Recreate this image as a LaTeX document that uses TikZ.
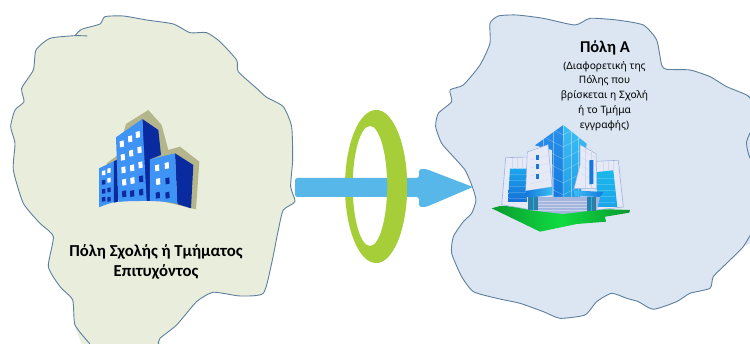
\documentclass[tikz,border=0pt]{standalone}
\usepackage{fontspec}
\setmainfont{Carlito}
\newfontfamily\smallfont{Noto Sans}
\definecolor{leftfill}{HTML}{E9EDDC}
\definecolor{rightfill}{HTML}{DCE6F2}
\definecolor{blobline}{HTML}{5F7F9F}
\definecolor{arrowblue}{HTML}{57B7E8}
\definecolor{ringgreen}{HTML}{A5CE39}
\definecolor{bshadow}{HTML}{B5B58C}
\definecolor{blight}{HTML}{3F93F5}
\definecolor{bdark}{HTML}{0A2BA0}
\definecolor{gwhite}{HTML}{E6EAF7}
\definecolor{gedge}{HTML}{9FB2DC}
\definecolor{gridline}{HTML}{D0D8EE}
\definecolor{towerA}{HTML}{2A8FEA}
\definecolor{towerB}{HTML}{1478DC}
\definecolor{towerC}{HTML}{3DBDF4}
\definecolor{towerD}{HTML}{1C9AE6}
\definecolor{wingA}{HTML}{1CA6EC}
\definecolor{wingB}{HTML}{1470D8}
\definecolor{wingC}{HTML}{1AB8EA}
\definecolor{baseblue}{HTML}{A4B6DE}
\definecolor{doorblue}{HTML}{2E7FA8}
\definecolor{groundA}{HTML}{0FDC40}
\definecolor{groundB}{HTML}{0A9A30}
\tikzset{
  blob/.style={draw=blobline,line width=0.9pt,line join=round},
  maintext/.style={font=\bfseries\fontsize{16.7}{19.5}\selectfont,align=center,text=black},
  subtext/.style={font=\smallfont\fontsize{10.2}{14.8}\selectfont,align=center,text=black},
  titletext/.style={font=\bfseries\fontsize{16.5}{20}\selectfont,text=black},
  gridl/.style={draw=gridline,line width=0.3pt},
  towergrid/.style={draw=white,opacity=0.4,line width=0.35pt},
  winggrid/.style={draw=white,opacity=0.18,line width=0.3pt}
}
\newcommand{\winbox}[3]{\fill[#1] (#2-6,#3-8) -- (#2+6,#3-11) -- (#2+7,#3+8) -- (#2-5,#3+10) -- cycle;}
\newcommand{\winsmall}[3]{\fill[#1] (#2-5,#3-6) -- (#2+5,#3-8) -- (#2+5,#3+6) -- (#2-5,#3+7) -- cycle;}
\begin{document}
\begin{tikzpicture}[x=1pt,y=-1pt]
\useasboundingbox (0,0) rectangle (750,344);
\fill[white] (0,0) rectangle (750,344);
% left region
\begin{scope}[x=0.3333pt,y=-0.3333pt]
\clip (0,0) rectangle (900,1032);
\fill[leftfill] plot[smooth,tension=0.35] coordinates {(225,107)(245,88)(300,72)(315,50)(370,48)(440,60)(520,72)(570,98)(620,98)(660,125)(710,180)(715,215)(770,265)(800,292)(850,320)(875,380)(878,480)(872,560)(885,605)(850,630)(835,690)(815,790)(790,880)(720,888)(640,877)(590,905)(530,975)(480,1015)(475,1060)(270,1060)(225,975)(218,900)(180,860)(145,800)(160,710)(120,670)(70,610)(40,510)(45,430)(32,380)(45,330)(72,305)(65,265)(100,210)(108,150)(150,115)(225,107)};
\draw[blob] plot[smooth,tension=0.35] coordinates {(262,108)(225,107)(150,115)(108,150)(100,210)(65,265)(72,305)(45,330)(32,380)(45,430)(40,510)(70,610)(120,670)(160,710)(145,800)(180,860)(218,900)(225,975)(270,1032)};
\draw[blob] plot[smooth,tension=0.35] coordinates {(225,107)(245,88)(300,72)(315,50)(370,48)(440,60)(520,72)(570,98)(620,98)(660,125)(710,180)(715,215)(770,265)(800,292)(850,320)(875,380)(878,480)(872,560)(885,605)(850,630)(835,690)(815,790)(790,880)(720,888)(640,877)(590,905)(530,975)(480,1015)(475,1032)};
\end{scope}
% right region
\begin{scope}[shift={(430,0)},x=0.3333pt,y=-0.3333pt]
\clip (0,0) rectangle (960,1032);
\fill[rightfill] plot[smooth,tension=0.35] coordinates {(180,70)(205,48)(260,45)(340,55)(435,75)(480,55)(560,60)(640,75)(680,120)(695,195)(710,208)(780,210)(840,230)(890,260)(950,285)(990,300)(990,690)(940,740)(890,790)(850,830)(840,865)(780,880)(740,905)(670,928)(625,905)(590,895)(545,880)(500,905)(465,945)(390,955)(340,935)(270,910)(200,895)(130,875)(95,830)(65,760)(70,710)(100,665)(125,640)(138,600)(125,555)(105,510)(70,470)(35,430)(17,380)(25,340)(65,305)(60,270)(100,255)(150,195)(180,130)(180,70)};
\draw[blob] plot[smooth,tension=0.35] coordinates {(975,310)(950,285)(890,260)(840,230)(780,210)(710,208)(695,195)(680,120)(640,75)(560,60)(480,55)(435,75)(340,55)(260,45)(205,48)(180,70)(180,130)(150,195)(100,255)(60,270)(65,305)(25,340)(17,380)(35,430)(70,470)(105,510)(125,555)(138,600)(125,640)(100,665)(70,710)(65,760)(95,830)(130,875)(200,895)(270,910)(340,935)(390,955)(465,945)(500,905)(545,880)(590,895)(625,905)(670,928)(740,905)(780,880)(840,865)(850,830)(890,790)(940,740)(975,680)};
\draw[blob] plot[smooth,tension=0.5] coordinates {(965,390)(950,425)(955,460)(965,485)};
\end{scope}
% ring, arrow, front part of ring
\fill[ringgreen,even odd rule] (376,186.5) ellipse [x radius=31,y radius=76.5] (370,186) ellipse [x radius=17.3,y radius=60];
\fill[arrowblue,rounded corners=2.5pt] (295,178) -- (419,178) -- (419,169) -- (426,169) [sharp corners] -- (473,187) [rounded corners=2.5pt] -- (426,207) -- (419,207) -- (419,197) -- (295,197) -- cycle;
\begin{scope}
\clip (376,100) rectangle (420,270);
\fill[ringgreen,even odd rule] (376,186.5) ellipse [x radius=31,y radius=76.5] (370,186) ellipse [x radius=17.3,y radius=60];
\end{scope}
% left building
\begin{scope}[shift={(90,100)},x=0.3333pt,y=-0.3333pt]
\fill[bshadow] (50,190) -- (80,168) -- (108,72) -- (175,30) -- (215,75) -- (235,150) -- (270,140) -- (328,185) -- (318,328) -- (200,300) -- (60,300) -- cycle;
\fill[blight] (27,205) -- (80,180) -- (83,305) .. controls (60,308) and (45,315) .. (27,322) -- cycle;
\fill[bdark] (72,183) -- (82,180) -- (84,305) -- (72,308) -- cycle;
\fill[bdark] (157,57) -- (205,90) -- (213,165) -- (180,178) -- (180,303) -- (165,303) -- cycle;
\fill[blight] (78,112) -- (157,57) -- (170,303) .. controls (140,303) and (110,303) .. (85,306) -- cycle;
\fill[bdark] (255,160) -- (310,195) -- (303,325) -- (262,312) -- cycle;
\fill[blight] (180,178) -- (255,160) -- (262,312) .. controls (235,305) and (205,304) .. (180,303) -- cycle;
\foreach \px/\py in {95/132,120/117,143/104,98/172,123/160,148/150,100/210,126/204,151/195,102/247,127/242,201/204,230/197,204/245}{\winbox{white}{\px}{\py}}
\foreach \px/\py in {153/237,102/282,126/281,153/277,203/286,232/286,232/243}{\winbox{bdark}{\px}{\py}}
\foreach \px/\py in {41/219,57/212,57/241}{\winsmall{white}{\px}{\py}}
\foreach \px/\py in {41/247,41/274,57/270,41/298,57/298}{\winsmall{bdark}{\px}{\py}}
\end{scope}
% right building: ground
\shade[left color=groundB,right color=groundB,middle color=groundA] (491.7,208.3) -- (500,206) -- (630,210) -- (629.3,212.7) -- (605,216.7) -- (606,221.7) -- (576.7,224) -- (540,231.7) -- cycle;
% left wing
\fill[gwhite,draw=gedge,line width=0.6pt] (501.7,204.7) -- (505.7,157.7) -- (529,157) -- (529,209.5) -- cycle;
\shade[top color=wingA,bottom color=wingB] (510,168.7) -- (527,168.7) -- (527,202) -- (508,202) -- cycle;
\foreach \gx in {512,517,522}{\draw[gridl] (\gx,158) -- (\gx,168.7);}
\foreach \gy in {174,180,186,192,198}{\draw[winggrid] (509,\gy) -- (527,\gy);}
% right wing
\fill[gwhite,draw=gedge,line width=0.6pt] (596,161.3) -- (618.3,160.3) -- (623.3,207) -- (596,210) -- cycle;
\shade[top color=wingC,bottom color=wingA] (597.3,172) -- (613.3,170.3) -- (617.3,207) -- (597.3,207) -- cycle;
\foreach \gx in {603,608,613}{\draw[gridl] (\gx,161) -- (\gx,171);}
\foreach \gy in {178,184,190,196,202}{\draw[winggrid] (597.3,\gy) -- (615,\gy);}
% tower
\shade[top color=towerA,bottom color=towerB] (563.3,125) -- (535,145.3) -- (552,150) -- (553,207) -- (563,208) -- cycle;
\shade[top color=towerC,bottom color=towerD] (563.3,125) -- (586.7,143.7) -- (580,200) -- (563,208) -- cycle;
\begin{scope}
\clip (563.3,125) -- (535,145.3) -- (552,150) -- (553,207) -- (563,208) -- (580,200) -- (586.7,143.7) -- cycle;
\foreach \gy in {135,147,159,171,183,195}{\draw[towergrid] (540,\gy-12) -- (563,\gy) -- (590,\gy-14);}
\foreach \gx in {543,553,571,578}{\draw[towergrid] (\gx,125) -- (\gx,208);}
\draw[draw=white,opacity=0.6,line width=0.5pt] (563.3,125) -- (563,208);
\end{scope}
% white blocks
\fill[gwhite,draw=gedge,line width=0.5pt] (527.3,152) -- (548,144.7) -- (552,187) -- (525.7,191) -- cycle;
\fill[gwhite,draw=gedge,line width=0.5pt] (580,144.7) -- (596,153.7) -- (596.7,188.7) -- (574,188.7) -- (580,165) -- cycle;
\foreach \gy in {160,168,176,184}{\draw[gridl] (582,\gy-10) -- (596,\gy-2);\draw[gridl] (530,\gy) -- (550,\gy-5);}
\foreach \gx in {585,591}{\draw[gridl] (\gx,148) -- (\gx,188);}
\fill[towerB] (589.3,160.3) -- (593.3,160) -- (593.3,183.7) -- (589.3,184.5) -- cycle;
\foreach \wy in {158,167,177}{\fill[towerB] (535.5,\wy-2.5) rectangle (538.5,\wy+2.5);}
% base
\fill[baseblue] (528,197) -- (600,197) -- (597,210) -- (563,214) -- (528,210) -- cycle;
\foreach \gy in {201,204,207,210}{\draw[draw=white,opacity=0.4,line width=0.3pt] (538,\gy) -- (587,\gy);}
% canopies
\shade[left color=towerB,right color=towerC] (525.7,191) -- (552,187) -- (552.5,195) -- (535,197) -- (527,197) -- cycle;
\shade[left color=towerC,right color=towerB] (574,190.3) -- (603.3,192) -- (600,197) -- (575,196) -- cycle;
% doors
\fill[doorblue] (528.3,197) rectangle (537.7,210.3);
\fill[doorblue] (587.3,197) rectangle (596,211.3);
\draw[draw=wingC,line width=0.5pt] (533,197) -- (533,210) (591.6,197) -- (591.6,211);
% labels
\node[maintext] (lefttext) at (156,262) {Πόλη Σχολής ή Τμήματος\\Επιτυχόντος};
\node[titletext] (righttitle) at (605,48) {Πόλη Α};
\node[subtext] (rightsub) at (604.5,96) {(Διαφορετική της\\Πόλης που\\βρίσκεται η Σχολή\\ή το Τμήμα\\εγγραφής)};
\end{tikzpicture}
\end{document}
